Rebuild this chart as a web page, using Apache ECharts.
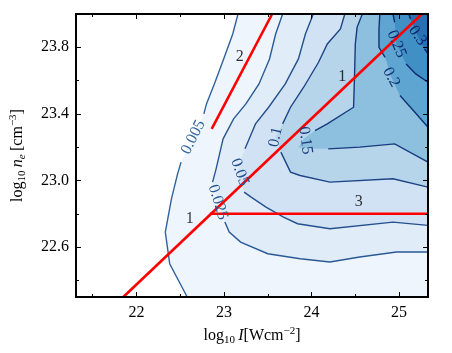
<!DOCTYPE html>
<html lang="en">
<head>
    <meta charset="UTF-8">
    <title>contour</title>
    <script src="https://cdn.jsdelivr.net/npm/echarts@6/dist/echarts.min.js"></script>
</head>
<body style="margin:0;background:#fff">
    <div id="container" style="width:452px;height:353px"></div>
    <script>
        // axis ranges and ticks
        var xRange = [21.31, 25.33];
        var yRange = [22.3, 24.0];
        var xMajor = [22, 23, 24, 25];
        var xMinor = [21.5, 22.5, 23.5, 24.5];
        var yMajor = [22.6, 23.0, 23.4, 23.8];
        var yMinor = [22.4, 22.8, 23.2, 23.6];

        var levels = ['0.005', '0.025', '0.05', '0.1', '0.15', '0.2', '0.25', '0.3'];

        // contour lines, [x, y]; a third value 0 marks a point hidden under the inline label
        var c005 = [[23.16, 24.0], [23.10, 23.88], [22.99, 23.72], [22.89, 23.58], [22.80, 23.46], [22.77, 23.40],
            [22.65, 23.26, 0], [22.51, 23.11], [22.47, 23.04], [22.40, 22.89], [22.33, 22.69], [22.38, 22.50], [22.58, 22.3]];
        var c025 = [[23.67, 24.0], [23.59, 23.88], [23.52, 23.73], [23.40, 23.58], [23.25, 23.46], [23.11, 23.37],
            [22.99, 23.25], [22.91, 23.07], [22.87, 22.99], [22.93, 22.87, 0], [23.01, 22.75], [23.06, 22.69],
            [23.19, 22.63], [23.50, 22.56], [23.87, 22.53], [24.21, 22.51], [24.55, 22.54], [24.97, 22.57], [25.33, 22.57]];
        var c05 = [[24.02, 24.0], [23.93, 23.88], [23.85, 23.73], [23.70, 23.58], [23.51, 23.44], [23.36, 23.34],
            [23.28, 23.24], [23.24, 23.19], [23.15, 23.05, 0], [23.23, 22.93], [23.31, 22.90], [23.48, 22.84],
            [23.68, 22.78], [23.84, 22.74], [24.21, 22.71], [24.93, 22.75], [25.33, 22.73]];
        var c1 = [[24.38, 24.0], [24.33, 23.91], [24.18, 23.82], [24.08, 23.71], [23.91, 23.56], [23.76, 23.44],
            [23.67, 23.34], [23.59, 23.26, 0], [23.65, 23.17], [23.76, 23.05], [23.87, 23.03], [24.21, 22.99],
            [24.93, 23.01], [25.33, 22.96]];
        var c15 = [[24.58, 24.0], [24.52, 23.92], [24.50, 23.82], [24.49, 23.61], [24.48, 23.44], [24.18, 23.34],
            [24.04, 23.30], [23.91, 23.25, 0], [23.85, 23.20, 0], [24.01, 23.19, 0], [24.19, 23.19], [24.55, 23.20],
            [24.95, 23.22], [25.33, 23.11]];
        var c2 = [[24.78, 24.0], [24.77, 23.91], [24.77, 23.80], [24.84, 23.74], [24.91, 23.62, 0], [25.01, 23.51],
            [25.18, 23.41], [25.33, 23.32]];
        var c25 = [[24.93, 24.0], [24.95, 23.95], [24.97, 23.82, 0], [25.08, 23.70], [25.19, 23.64], [25.33, 23.59]];
        var c3 = [[25.11, 24.0], [25.13, 23.97], [25.21, 23.87, 0], [25.29, 23.79], [25.33, 23.76]];
        var contours = [c005, c025, c05, c1, c15, c2, c25, c3];

        // inline contour labels: text, x, y, angle
        var contourTags = [
            ['0.005', 22.65, 23.26, 63],
            ['0.025', 22.93, 22.87, -73],
            ['0.05', 23.18, 23.05, -70],
            ['0.1', 23.59, 23.26, 78],
            ['0.15', 23.93, 23.24, -82],
            ['0.2', 24.91, 23.62, -62],
            ['0.25', 24.97, 23.82, -67],
            ['0.3', 25.21, 23.87, -55]
        ];

        // red lines
        var line1 = [[21.85, 22.3], [25.26, 24.0]];
        var line2 = [[22.86, 23.31], [23.55, 24.0]];
        var line3 = [[22.84, 22.8], [25.33, 22.8]];
        var lineTags = [['1', 22.61, 22.77], ['1', 24.35, 23.62], ['2', 23.18, 23.74], ['3', 24.54, 22.87]];

        var fillColors = ['#eef5fc', '#e0ecf8', '#d0e2f3', '#b6d4ea', '#8dc0de', '#5ea5d2', '#4190c5', '#2a70b2'];
        var lineColors = ['#30639b', '#2a5a95', '#24508e', '#1d4586', '#173b7e', '#113276', '#0c2a6f', '#082469'];
        var serif = '"Liberation Serif", "DejaVu Serif", serif';

        function xAxis(pos, values, len, labels) {
            return {
                type: 'value', position: pos, min: xRange[0], max: xRange[1], z: 10,
                axisLine: { show: true, onZero: false, lineStyle: { color: '#000', width: 1.8 } },
                axisTick: { show: true, inside: true, length: len, customValues: values, lineStyle: { color: '#000', width: 1 } },
                axisLabel: { show: labels, customValues: values, margin: 8, color: '#000', fontSize: 16, fontFamily: serif },
                splitLine: { show: false }
            };
        }
        function yAxis(pos, values, len, labels) {
            return {
                type: 'value', position: pos, min: yRange[0], max: yRange[1], z: 10,
                axisLine: { show: true, onZero: false, lineStyle: { color: '#000', width: 1.8 } },
                axisTick: { show: true, inside: true, length: len, customValues: values, lineStyle: { color: '#000', width: 1 } },
                axisLabel: { show: labels, customValues: values, margin: 7, color: '#000', fontSize: 16, fontFamily: serif,
                    formatter: function (v) { return v.toFixed(1); } },
                splitLine: { show: false }
            };
        }

        var rich = {
            a: { fontSize: 16, fontFamily: serif, color: '#000', lineHeight: 20 },
            i: { fontSize: 16, fontFamily: serif, fontStyle: 'italic', color: '#000', lineHeight: 20 },
            s: { fontSize: 11, fontFamily: serif, color: '#000', lineHeight: 11, verticalAlign: 'bottom' },
            si: { fontSize: 11, fontFamily: serif, fontStyle: 'italic', color: '#000', lineHeight: 11, verticalAlign: 'bottom' },
            p: { fontSize: 11, fontFamily: serif, color: '#000', lineHeight: 11, verticalAlign: 'top' }
        };

        var xs = [xAxis('bottom', xMajor, 5, true), xAxis('bottom', xMinor, 3, false),
            xAxis('top', xMajor, 5, false), xAxis('top', xMinor, 3, false)];
        xs[0].name = '{a|log}{s|10} {i|I}{a|[Wcm}{p|\u22122}{a|]}';
        xs[0].nameLocation = 'middle';
        xs[0].nameGap = 24;
        xs[0].nameTextStyle = { rich: rich };

        var ys = [yAxis('left', yMajor, 5, true), yAxis('left', yMinor, 3, false),
            yAxis('right', yMajor, 5, false), yAxis('right', yMinor, 3, false)];
        ys[0].name = '{a|log}{s|10} {i|n}{si|e} {a|[cm}{p|\u22123}{a|]}';
        ys[0].nameLocation = 'middle';
        ys[0].nameGap = 48;
        ys[0].nameTextStyle = { rich: rich };

        var myChart = echarts.init(document.getElementById('container'));
        myChart.setOption({
            backgroundColor: '#fff',
            animation: false,
            grid: { left: 74, right: 24, top: 14, bottom: 56 },
            xAxis: xs,
            yAxis: ys,
            series: [{
                // filled contour bands
                type: 'custom',
                coordinateSystem: 'cartesian2d',
                silent: true,
                z: 1,
                data: levels.map(function (l, i) { return [i]; }),
                renderItem: function (params, api) {
                    var i = params.dataIndex;
                    var pts = contours[i].map(function (p) { return [p[0], p[1]]; });
                    var last = pts[pts.length - 1];
                    if (last[1] <= yRange[0] + 1e-6) pts.push([xRange[1], yRange[0]]);
                    pts.push([xRange[1], yRange[1]]);
                    return {
                        type: 'polygon',
                        shape: { points: pts.map(function (p) { return api.coord(p); }) },
                        style: { fill: fillColors[i] }
                    };
                }
            }, {
                // contour lines
                type: 'custom',
                coordinateSystem: 'cartesian2d',
                silent: true,
                z: 2,
                data: levels.map(function (l, i) { return [i]; }),
                renderItem: function (params, api) {
                    var i = params.dataIndex;
                    var runs = [], cur = [];
                    contours[i].forEach(function (p) {
                        if (p[2] === 0) {
                            if (cur.length > 1) runs.push(cur);
                            cur = [];
                        } else {
                            cur.push(api.coord([p[0], p[1]]));
                        }
                    });
                    if (cur.length > 1) runs.push(cur);
                    return {
                        type: 'group',
                        children: runs.map(function (r) {
                            return { type: 'polyline', shape: { points: r }, style: { stroke: lineColors[i], lineWidth: 1.4, fill: null } };
                        })
                    };
                }
            }, {
                // contour level labels
                type: 'custom',
                coordinateSystem: 'cartesian2d',
                silent: true,
                z: 5,
                data: contourTags.map(function (t, i) { return [i]; }),
                renderItem: function (params, api) {
                    var t = contourTags[params.dataIndex];
                    var c = api.coord([t[1], t[2]]);
                    return {
                        type: 'text', x: c[0], y: c[1], rotation: t[3] * Math.PI / 180,
                        style: {
                            text: t[0], fill: lineColors[levels.indexOf(t[0])], fontSize: 16, fontFamily: serif,
                            align: 'center', verticalAlign: 'middle', textAlign: 'center', textVerticalAlign: 'middle'
                        }
                    };
                }
            }, {
                type: 'line', data: line1, symbol: 'none', z: 4,
                lineStyle: { color: '#ff0000', width: 2.6 }
            }, {
                type: 'line', data: line2, symbol: 'none', z: 4,
                lineStyle: { color: '#ff0000', width: 2.6 }
            }, {
                type: 'line', data: line3, symbol: 'none', z: 4,
                lineStyle: { color: '#ff0000', width: 2.6 }
            }, {
                type: 'scatter', symbolSize: 0, z: 6, silent: true,
                data: lineTags.map(function (t) { return { name: t[0], value: [t[1], t[2]] }; }),
                label: { show: true, position: 'inside', formatter: '{b}', color: '#000', fontSize: 16, fontFamily: serif }
            }]
        });
    </script>
</body>
</html>
